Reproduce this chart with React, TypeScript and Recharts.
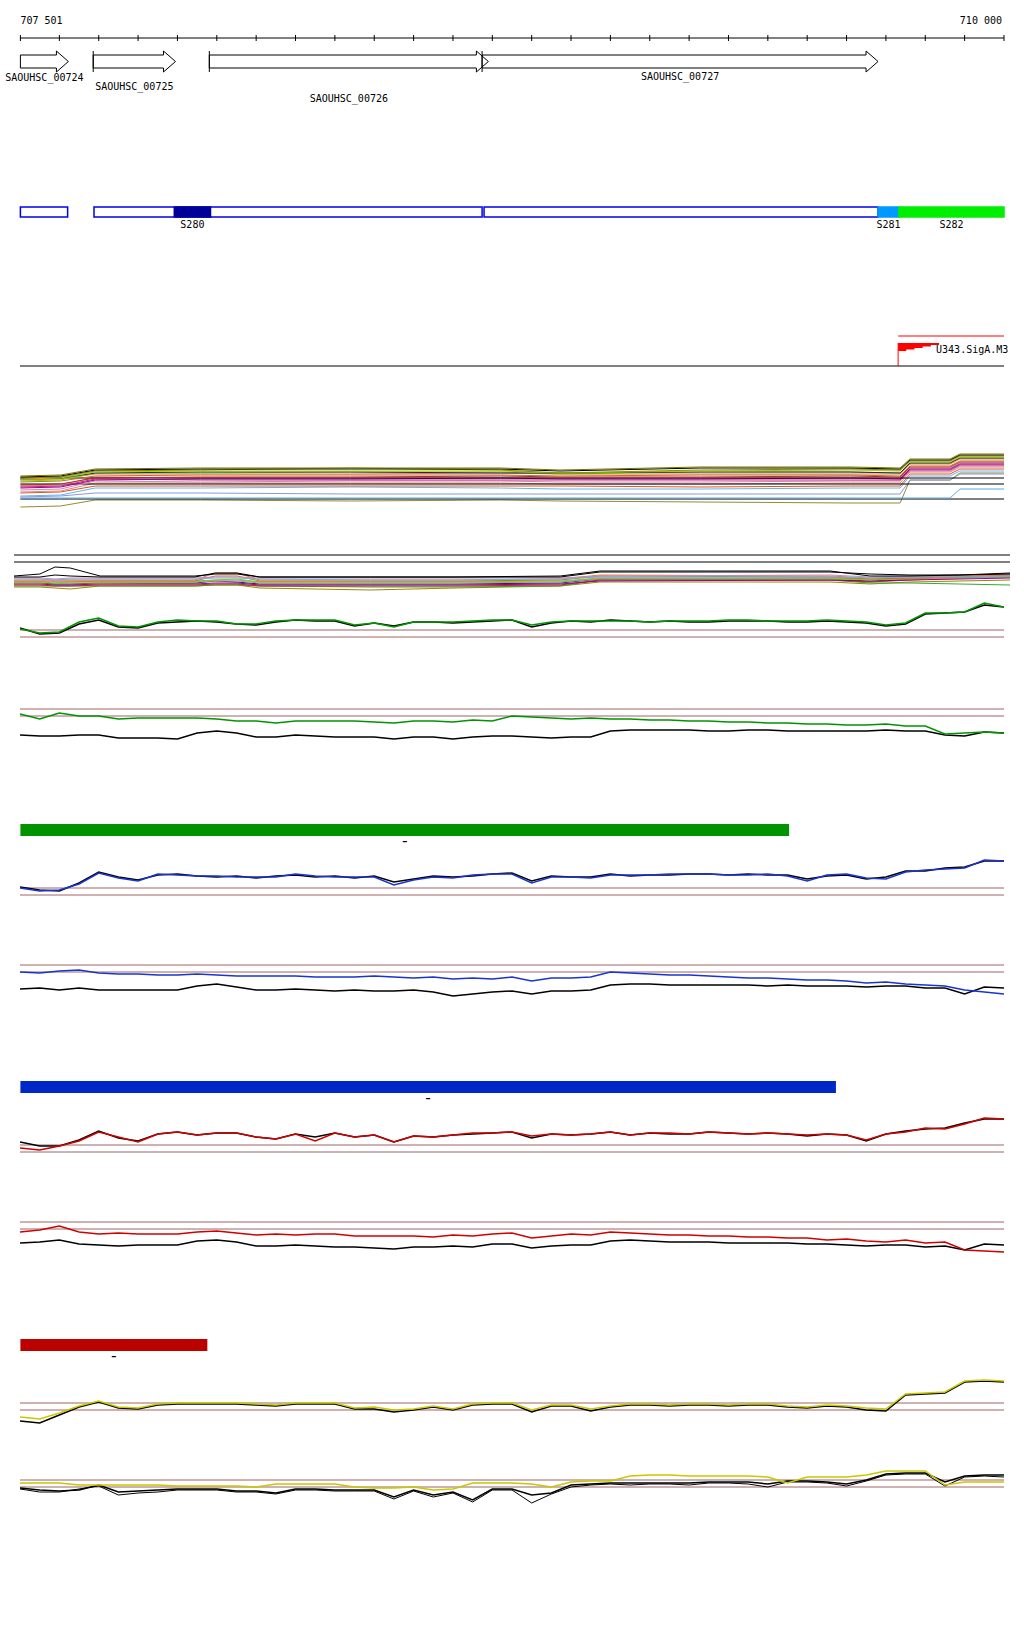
import React from "react";
import { LineChart, Line, XAxis, YAxis, ReferenceLine, ReferenceArea } from "recharts";

const WIDTH = 1024;
const X_DOMAIN: [number, number] = [707500, 710000];
const MONO = '"DejaVu Sans Mono", "Liberation Mono", monospace';
const BROWN = "#a06464";

// ruler, one tick per 100 bp
const rulerTicks = [
  707501, 707600, 707700, 707800, 707900, 708000, 708100, 708200, 708300, 708400, 708500, 708600, 708700,
  708800, 708900, 709000, 709100, 709200, 709300, 709400, 709500, 709600, 709700, 709800, 709900, 710000,
];

// annotated genes
const geneNames = ["SAOUHSC_00724", "SAOUHSC_00725", "SAOUHSC_00726", "SAOUHSC_00727"];
const geneStarts = [707501, 707686, 707981, 708674];
const geneEnds = [707623, 707895, 708690, 709680];
const geneLabelDy: Record<string, number> = {
  SAOUHSC_00724: 30,
  SAOUHSC_00725: 39,
  SAOUHSC_00726: 51,
  SAOUHSC_00727: 29,
};

// segments track
const segStarts = [707501, 707688, 707892, 708679, 709680, 709733];
const segEnds = [707621, 708674, 707984, 709680, 709733, 710000];
const segLabels = ["", "", "S280", "", "S281", "S282"];
const segFill: Record<string, string> = { "": "#ffffff", S280: "#000099", S281: "#0099ff", S282: "#00ee00" };

// TSS
const tssPos = 709731;
const tssFlagEnd = 709835;
const tssName = "U343.SigA.M3";

// coloured spans
const greenSpan = [707501, 709454];
const blueSpan = [707501, 709573];
const redSpan = [707501, 707976];

// condition profiles (top spaghetti)
const p1Pos = [707501, 707603, 707691, 707958, 708339, 708720, 708872, 709228, 709609, 709736, 709761, 709863, 709888, 710000];
const p1Black = [3.3, 3.4, 4.0, 4.1, 4.1, 4.1, 3.9, 4.2, 4.2, 4.1, 5.0, 5.0, 5.5, 5.5];
const p1Olive = [3.2, 3.3, 3.9, 4.0, 4.2, 4.0, 3.7, 4.0, 4.1, 4.0, 4.9, 4.9, 5.4, 5.4];
const p1Lime = [2.9, 3.0, 3.7, 3.7, 3.8, 3.8, 3.6, 3.8, 3.8, 3.7, 4.7, 4.7, 5.2, 5.2];
const p1Orange = [3.0, 3.1, 3.6, 3.6, 3.6, 3.7, 3.6, 3.6, 3.6, 3.6, 4.6, 4.6, 5.1, 5.1];
const p1YellowGreen = [3.1, 3.2, 3.8, 3.9, 3.9, 3.9, 3.7, 3.9, 4.0, 3.9, 4.8, 4.8, 5.3, 5.3];
const p1Rust = [2.8, 2.9, 3.4, 3.5, 3.5, 3.5, 3.4, 3.5, 3.5, 3.4, 4.4, 4.4, 4.9, 4.9];
const p1Red = [2.5, 2.6, 3.2, 3.3, 3.3, 3.4, 3.3, 3.3, 3.4, 3.3, 4.3, 4.3, 4.8, 4.8];
const p1Purple = [2.2, 2.3, 3.0, 3.1, 3.1, 3.2, 3.1, 3.1, 3.2, 3.1, 4.1, 4.1, 4.6, 4.6];
const p1Pink = [2.0, 2.1, 2.9, 2.8, 2.9, 2.9, 2.8, 2.8, 2.9, 2.9, 3.9, 3.9, 4.4, 4.4];
const p1Magenta = [2.3, 2.4, 3.1, 3.0, 3.0, 3.0, 3.0, 3.0, 3.0, 3.0, 4.0, 4.0, 4.5, 4.5];
const p1BlackMid = [3.2, 3.2, 3.2, 3.2, 3.2, 3.2, 3.2, 3.2, 3.2, 3.2, 3.2, 3.2, 3.2, 3.2];
const p1BlackLow = [2.6, 2.6, 2.6, 2.6, 2.6, 2.6, 2.6, 2.6, 2.6, 2.6, 2.6, 2.6, 2.6, 2.6];
const p1Salmon = [1.8, 1.9, 2.7, 2.7, 2.7, 2.7, 2.6, 2.6, 2.7, 2.7, 3.8, 3.8, 4.3, 4.3];
const p1RedOrange = [1.7, 1.8, 2.4, 2.4, 2.4, 2.4, 2.4, 2.3, 2.4, 2.4, 3.6, 3.6, 4.1, 4.1];
const p1Sky = [1.4, 1.5, 2.2, 2.2, 2.3, 2.2, 2.1, 2.1, 2.2, 2.2, 3.4, 3.4, 3.9, 3.9];
const p1Periwinkle = [1.3, 1.4, 1.7, 1.7, 1.6, 1.6, 1.6, 1.6, 1.6, 1.6, 3.0, 3.0, 3.6, 3.6];
const p1SkyLow = [1.2, 1.2, 1.2, 1.2, 1.2, 1.2, 1.2, 1.2, 1.2, 1.2, 1.2, 1.2, 2.1, 2.1];
const p1BlackBase = [1.1, 1.1, 1.1, 1.1, 1.1, 1.1, 1.1, 1.1, 1.1, 1.1, 1.1, 1.1, 1.1, 1.1];
const p1Ochre = [0.3, 0.4, 1.0, 1.0, 0.9, 1.0, 0.9, 0.8, 0.7, 0.7, 3.0, 3.0, 3.7, 3.7];
const p1Navy = [3.1, 3.2, 3.7, 3.8, 3.8, 3.7, 3.7, 3.8, 3.8, 3.7, 4.7, 4.7, 5.2, 5.2];
const p1Gray = [2.4, 2.5, 3.3, 3.2, 3.2, 3.2, 3.2, 3.2, 3.2, 3.2, 4.2, 4.2, 4.7, 4.7];
const p1DarkOlive = [3.4, 3.5, 4.1, 4.2, 4.2, 4.2, 4.0, 4.3, 4.3, 4.2, 5.1, 5.1, 5.6, 5.6];

// second spaghetti
const p2Pos = [707500, 707565, 707603, 707641, 707716, 707954, 708005, 708060, 708117, 708394, 708607, 708871, 708971, 709548, 709649, 709749, 709874, 710000];
const p2Black = [2.4, 2.6, 3.3, 3.2, 2.4, 2.4, 2.6, 2.6, 2.3, 2.3, 2.3, 2.3, 2.8, 2.8, 2.6, 2.5, 2.5, 2.6];
const p2Black2 = [2.3, 2.3, 2.5, 2.4, 2.3, 2.3, 2.7, 2.7, 2.3, 2.3, 2.3, 2.4, 2.9, 2.9, 2.4, 2.4, 2.5, 2.7];
const p2Orange = [2.0, 2.0, 2.0, 2.0, 2.0, 2.0, 2.7, 2.7, 2.0, 2.0, 2.0, 2.1, 2.5, 2.4, 2.2, 2.3, 2.4, 2.5];
const p2Lime = [1.8, 1.8, 1.7, 1.8, 1.8, 1.8, 2.0, 2.1, 1.8, 1.8, 1.8, 1.9, 2.2, 2.2, 2.0, 2.2, 2.3, 2.4];
const p2Sky = [2.1, 2.1, 2.0, 2.1, 2.1, 2.1, 2.2, 2.2, 2.1, 2.0, 2.0, 2.1, 2.3, 2.3, 2.2, 2.3, 2.3, 2.4];
const p2Olive = [1.3, 1.3, 1.2, 1.1, 1.4, 1.4, 1.5, 1.5, 1.2, 1.0, 1.2, 1.4, 1.8, 1.8, 1.6, 1.8, 1.9, 2.0];
const p2Purple = [1.6, 1.6, 1.5, 1.5, 1.6, 1.6, 1.7, 1.7, 1.5, 1.5, 1.5, 1.6, 1.9, 2.0, 1.9, 2.0, 2.1, 2.2];
const p2Salmon = [1.7, 1.7, 1.7, 1.7, 1.7, 1.8, 1.9, 1.9, 1.7, 1.7, 1.7, 1.8, 2.1, 2.1, 2.0, 2.1, 2.2, 2.3];
const p2Rust = [1.9, 1.9, 1.9, 1.9, 1.9, 1.9, 2.4, 2.4, 1.9, 1.9, 1.9, 2.0, 2.4, 2.3, 2.1, 2.2, 2.3, 2.5];
const p2Red = [1.5, 1.5, 1.4, 1.4, 1.5, 1.5, 1.6, 1.6, 1.4, 1.4, 1.4, 1.5, 2.0, 2.0, 1.8, 2.0, 2.2, 2.3];
const p2Green = [1.4, 1.4, 1.4, 1.4, 1.4, 1.4, 1.5, 1.5, 1.4, 1.3, 1.3, 1.4, 2.0, 2.0, 1.7, 1.7, 1.6, 1.5];
const p2Navy = [1.7, 1.7, 1.6, 1.6, 1.7, 1.7, 1.9, 1.8, 1.6, 1.6, 1.6, 1.7, 2.1, 2.1, 1.9, 2.1, 2.2, 2.3];
const p2Pink = [2.2, 2.2, 2.1, 2.2, 2.2, 2.2, 2.3, 2.3, 2.2, 2.2, 2.2, 2.2, 2.4, 2.5, 2.3, 2.4, 2.5, 2.6];
const p2Periwinkle = [1.8, 1.8, 1.8, 1.8, 1.9, 1.9, 2.0, 2.0, 1.8, 1.8, 1.8, 1.8, 2.2, 2.2, 2.1, 2.2, 2.3, 2.4];

// tiling probes, 50 bp apart
const probePos = [
  707500, 707550, 707600, 707650, 707700, 707750, 707800, 707850, 707900, 707950,
  708000, 708050, 708100, 708150, 708200, 708250, 708300, 708350, 708400, 708450,
  708500, 708550, 708600, 708650, 708700, 708750, 708800, 708850, 708900, 708950,
  709000, 709050, 709100, 709150, 709200, 709250, 709300, 709350, 709400, 709450,
  709500, 709550, 709600, 709650, 709700, 709750, 709800, 709850, 709900, 709950,
  710000,
];

const p3Green = [
  0.8, 0.4, 0.5, 1.5, 1.9, 1.1, 1.0, 1.5, 1.7, 1.6,
  1.6, 1.3, 1.3, 1.6, 1.7, 1.7, 1.7, 1.2, 1.4, 1.0,
  1.5, 1.5, 1.5, 1.6, 1.7, 1.7, 1.2, 1.5, 1.6, 1.6,
  1.6, 1.6, 1.5, 1.6, 1.6, 1.6, 1.7, 1.7, 1.6, 1.6,
  1.6, 1.7, 1.6, 1.5, 1.2, 1.4, 2.4, 2.4, 2.5, 3.4,
  3.0,
];
const p3Black = [
  0.9, 0.3, 0.4, 1.3, 1.7, 1.0, 0.9, 1.4, 1.5, 1.6,
  1.5, 1.3, 1.2, 1.5, 1.7, 1.6, 1.6, 1.1, 1.4, 1.1,
  1.5, 1.5, 1.4, 1.5, 1.6, 1.7, 1.0, 1.4, 1.6, 1.5,
  1.7, 1.6, 1.5, 1.6, 1.5, 1.5, 1.6, 1.6, 1.6, 1.5,
  1.5, 1.6, 1.5, 1.4, 1.1, 1.3, 2.3, 2.4, 2.5, 3.2,
  3.0,
];
const p4Green = [
  0.2, -0.3, 0.3, 0.0, 0.0, -0.3, -0.2, -0.2, -0.2, -0.2,
  -0.3, -0.5, -0.5, -0.7, -0.5, -0.5, -0.5, -0.5, -0.6, -0.7,
  -0.5, -0.5, -0.6, -0.4, -0.5, 0.0, -0.1, -0.2, -0.3, -0.2,
  -0.3, -0.3, -0.4, -0.4, -0.5, -0.5, -0.6, -0.6, -0.7, -0.7,
  -0.8, -0.8, -0.9, -0.9, -0.8, -1.0, -1.0, -1.8, -1.7, -1.6,
  -1.7,
];
const p4Black = [
  -1.9, -2.0, -2.0, -1.9, -1.9, -2.2, -2.2, -2.2, -2.3, -1.7,
  -1.5, -1.7, -2.1, -2.1, -1.9, -2.0, -2.1, -2.1, -2.1, -2.3,
  -2.1, -2.1, -2.3, -2.1, -2.0, -2.0, -2.1, -2.2, -2.1, -2.1,
  -1.5, -1.4, -1.4, -1.4, -1.4, -1.5, -1.5, -1.4, -1.4, -1.5,
  -1.5, -1.5, -1.5, -1.5, -1.4, -1.5, -1.5, -1.9, -2.0, -1.6,
  -1.7,
];
const p5Blue = [
  0.7, 0.4, 0.5, 1.1, 2.2, 1.7, 1.4, 2.1, 2.0, 1.9,
  1.9, 1.8, 1.8, 1.8, 2.1, 1.9, 1.8, 1.8, 1.8, 1.0,
  1.5, 1.8, 1.7, 2.0, 2.1, 2.1, 1.2, 1.8, 1.8, 1.7,
  2.0, 2.0, 2.0, 2.1, 2.1, 2.1, 2.0, 2.0, 2.1, 1.9,
  1.4, 2.0, 2.1, 1.7, 1.6, 2.3, 2.5, 2.6, 2.7, 3.5,
  3.4,
];
const p5Black = [
  0.8, 0.5, 0.4, 1.2, 2.3, 1.8, 1.5, 2.0, 2.1, 1.9,
  1.8, 1.9, 1.7, 1.9, 2.0, 1.8, 1.9, 1.7, 1.9, 1.3,
  1.6, 1.9, 1.8, 1.9, 2.1, 2.2, 1.4, 1.9, 1.8, 1.8,
  2.1, 1.9, 2.0, 2.0, 2.1, 2.1, 2.0, 2.1, 2.0, 2.0,
  1.6, 1.9, 2.0, 1.6, 1.8, 2.4, 2.4, 2.7, 2.8, 3.4,
  3.4,
];
const p6Blue = [
  0.0, -0.1, 0.1, 0.2, -0.1, -0.2, -0.2, -0.3, -0.3, -0.2,
  -0.3, -0.4, -0.4, -0.4, -0.4, -0.5, -0.5, -0.5, -0.4, -0.5,
  -0.6, -0.5, -0.7, -0.6, -0.7, -0.5, -0.9, -0.6, -0.6, -0.5,
  0.0, -0.1, -0.2, -0.3, -0.3, -0.4, -0.5, -0.6, -0.6, -0.7,
  -0.8, -0.8, -0.9, -1.1, -1.0, -1.2, -1.3, -1.4, -1.8, -2.0,
  -2.2,
];
const p6Black = [
  -1.7, -1.6, -1.8, -1.6, -1.8, -1.8, -1.8, -1.8, -1.8, -1.4,
  -1.2, -1.5, -1.8, -1.8, -1.7, -1.8, -1.9, -1.8, -1.9, -1.9,
  -1.8, -2.0, -2.4, -2.2, -2.0, -1.9, -2.2, -1.9, -1.9, -1.8,
  -1.3, -1.2, -1.2, -1.3, -1.3, -1.3, -1.3, -1.3, -1.4, -1.3,
  -1.4, -1.4, -1.4, -1.5, -1.4, -1.4, -1.6, -1.6, -2.2, -1.5,
  -1.6,
];
const p7Red = [
  0.4, 0.2, 0.6, 1.1, 2.0, 1.5, 1.0, 1.8, 2.0, 1.7,
  1.9, 1.9, 1.5, 1.3, 1.8, 1.1, 1.9, 1.5, 1.7, 1.0,
  1.6, 1.5, 1.7, 1.9, 1.9, 2.0, 1.6, 1.8, 1.7, 1.8,
  2.0, 1.7, 1.9, 1.9, 1.8, 2.0, 1.9, 1.8, 1.9, 1.8,
  1.7, 1.8, 1.7, 1.2, 1.8, 2.0, 2.4, 2.3, 2.8, 3.4,
  3.3,
];
const p7Black = [
  1.0, 0.6, 0.6, 1.2, 2.1, 1.4, 1.1, 1.8, 2.0, 1.7,
  1.9, 1.9, 1.5, 1.3, 1.8, 1.5, 1.9, 1.5, 1.7, 1.0,
  1.6, 1.5, 1.7, 1.8, 1.9, 2.0, 1.4, 1.8, 1.7, 1.8,
  2.0, 1.7, 1.9, 1.8, 1.8, 2.0, 1.9, 1.8, 1.9, 1.8,
  1.6, 1.8, 1.7, 1.1, 1.8, 2.1, 2.3, 2.4, 2.9, 3.3,
  3.3,
];
const p8Red = [
  -0.3, -0.1, 0.3, -0.3, -0.5, -0.4, -0.5, -0.5, -0.5, -0.3,
  -0.2, -0.4, -0.6, -0.5, -0.6, -0.5, -0.5, -0.7, -0.7, -0.7,
  -0.7, -0.8, -0.6, -0.7, -0.5, -0.4, -0.9, -0.7, -0.5, -0.6,
  -0.3, -0.4, -0.5, -0.6, -0.6, -0.7, -0.7, -0.8, -0.8, -0.9,
  -0.9, -1.1, -1.0, -1.2, -1.3, -1.1, -1.4, -1.3, -2.1, -2.2,
  -2.3,
];
const p8Black = [
  -1.4, -1.3, -1.1, -1.5, -1.6, -1.7, -1.6, -1.6, -1.6, -1.2,
  -1.1, -1.3, -1.7, -1.7, -1.6, -1.7, -1.8, -1.8, -1.9, -2.0,
  -1.8, -1.8, -1.7, -1.8, -1.5, -1.5, -1.9, -1.7, -1.6, -1.6,
  -1.2, -1.1, -1.2, -1.3, -1.3, -1.3, -1.4, -1.4, -1.4, -1.4,
  -1.5, -1.5, -1.6, -1.7, -1.6, -1.6, -1.8, -1.7, -2.1, -1.5,
  -1.6,
];
const p9Yellow = [
  -0.7, -0.9, -0.3, 0.4, 0.9, 0.3, 0.2, 0.6, 0.7, 0.7,
  0.7, 0.7, 0.6, 0.5, 0.7, 0.7, 0.7, 0.2, 0.3, 0.0,
  0.1, 0.4, 0.1, 0.6, 0.7, 0.7, 0.0, 0.5, 0.5, 0.1,
  0.4, 0.6, 0.6, 0.5, 0.6, 0.6, 0.5, 0.6, 0.6, 0.4,
  0.3, 0.5, 0.4, 0.2, 0.1, 1.6, 1.7, 1.8, 2.9, 3.0,
  2.9,
];
const p9Black = [
  -1.1, -1.3, -0.5, 0.3, 0.8, 0.2, 0.1, 0.5, 0.6, 0.6,
  0.6, 0.6, 0.5, 0.4, 0.6, 0.6, 0.6, 0.1, 0.1, -0.2,
  0.0, 0.3, 0.0, 0.5, 0.6, 0.6, -0.2, 0.4, 0.4, -0.1,
  0.3, 0.5, 0.5, 0.4, 0.5, 0.5, 0.4, 0.5, 0.5, 0.3,
  0.2, 0.4, 0.3, 0.0, -0.1, 1.5, 1.6, 1.7, 2.8, 2.9,
  2.8,
];
const p10Yellow = [
  0.4, 0.4, 0.4, 0.2, 0.2, 0.2, 0.2, 0.2, 0.1, 0.1,
  0.1, 0.1, 0.0, 0.3, 0.3, 0.3, 0.3, 0.0, -0.1, -0.1,
  0.0, -0.3, -0.2, 0.4, 0.4, 0.4, 0.3, 0.0, 0.5, 0.6,
  0.6, 1.1, 1.2, 1.2, 1.1, 1.1, 1.1, 1.1, 1.0, 0.4,
  1.0, 1.0, 1.0, 1.2, 1.6, 1.6, 1.6, 0.2, 0.5, 0.5,
  0.5,
];
const p10Black = [
  -0.1, -0.3, -0.4, -0.3, 0.2, -0.5, -0.4, -0.3, -0.2, -0.2,
  -0.2, -0.4, -0.4, -0.6, -0.2, -0.2, -0.3, -0.3, -0.3, -1.0,
  -0.3, -0.8, -0.5, -1.3, -0.2, -0.2, -0.8, -0.6, 0.2, 0.3,
  0.4, 0.4, 0.4, 0.4, 0.4, 0.5, 0.5, 0.5, 0.3, 0.6,
  0.6, 0.5, 0.3, 0.7, 1.3, 1.4, 1.4, 0.5, 1.1, 1.2,
  1.2,
];
const p10Black2 = [
  -0.2, -0.5, -0.5, -0.2, 0.1, -0.8, -0.6, -0.5, -0.3, -0.3,
  -0.3, -0.5, -0.5, -0.7, -0.3, -0.3, -0.4, -0.4, -0.4, -1.2,
  -0.4, -1.0, -0.6, -1.5, -0.3, -0.3, -1.6, -0.7, 0.0, 0.2,
  0.3, 0.2, 0.3, 0.3, 0.2, 0.4, 0.4, 0.3, 0.0, 0.5,
  0.5, 0.4, 0.1, 0.6, 1.2, 1.3, 1.3, 0.1, 1.0, 1.1,
  1.0,
];

type Series = { key: string; color: string; values: number[]; width?: number };

const GREEN = "#009400";
const BLUE = "#1a34d0";
const RED = "#d00000";
const YELLOW = "#c8c800";

const p1Series: Series[] = [
  { key: "ochre", color: "#998833", values: p1Ochre },
  { key: "blackBase", color: "#000000", values: p1BlackBase },
  { key: "skyLow", color: "#55aaee", values: p1SkyLow },
  { key: "periwinkle", color: "#8899dd", values: p1Periwinkle },
  { key: "sky", color: "#66b3ee", values: p1Sky },
  { key: "redOrange", color: "#dd5522", values: p1RedOrange },
  { key: "salmon", color: "#e08a70", values: p1Salmon },
  { key: "blackLow", color: "#000000", values: p1BlackLow },
  { key: "pink", color: "#cc88bb", values: p1Pink },
  { key: "gray", color: "#999999", values: p1Gray },
  { key: "magenta", color: "#cc2277", values: p1Magenta },
  { key: "purple", color: "#990099", values: p1Purple },
  { key: "blackMid", color: "#000000", values: p1BlackMid },
  { key: "red", color: "#cc2222", values: p1Red },
  { key: "rust", color: "#cc6633", values: p1Rust },
  { key: "orange", color: "#ee7733", values: p1Orange },
  { key: "lime", color: "#66dd00", values: p1Lime },
  { key: "navy", color: "#222266", values: p1Navy },
  { key: "yellowGreen", color: "#aacc00", values: p1YellowGreen },
  { key: "olive", color: "#8c8c00", values: p1Olive },
  { key: "black", color: "#000000", values: p1Black },
  { key: "darkOlive", color: "#777700", values: p1DarkOlive },
];

const p2Series: Series[] = [
  { key: "olive", color: "#998800", values: p2Olive },
  { key: "green", color: "#33aa33", values: p2Green },
  { key: "red", color: "#cc2222", values: p2Red },
  { key: "purple", color: "#990099", values: p2Purple },
  { key: "navy", color: "#222266", values: p2Navy },
  { key: "salmon", color: "#e08a70", values: p2Salmon },
  { key: "periwinkle", color: "#8899dd", values: p2Periwinkle },
  { key: "lime", color: "#66dd00", values: p2Lime },
  { key: "rust", color: "#cc6633", values: p2Rust },
  { key: "orange", color: "#ee7733", values: p2Orange },
  { key: "sky", color: "#66b3ee", values: p2Sky },
  { key: "pink", color: "#cc88bb", values: p2Pink },
  { key: "black2", color: "#000000", values: p2Black2 },
  { key: "black", color: "#000000", values: p2Black },
];

const pairPanels = [
  { top: 597, height: 50, domain: [-1, 4], series: [{ key: "k", color: "#000", values: p3Black }, { key: "c", color: GREEN, values: p3Green }] },
  { top: 706, height: 40, domain: [-3, 1], series: [{ key: "k", color: "#000", values: p4Black }, { key: "c", color: GREEN, values: p4Green }] },
  { top: 855, height: 50, domain: [-1, 4], series: [{ key: "k", color: "#000", values: p5Black }, { key: "c", color: BLUE, values: p5Blue }] },
  { top: 962, height: 40, domain: [-3, 1], series: [{ key: "k", color: "#000", values: p6Black }, { key: "c", color: BLUE, values: p6Blue }] },
  { top: 1112, height: 50, domain: [-1, 4], series: [{ key: "k", color: "#000", values: p7Black }, { key: "c", color: RED, values: p7Red }] },
  { top: 1219, height: 40, domain: [-3, 1], series: [{ key: "k", color: "#000", values: p8Black }, { key: "c", color: RED, values: p8Red }] },
  { top: 1370, height: 60, domain: [-2, 4], series: [{ key: "k", color: "#000", values: p9Black }, { key: "c", color: YELLOW, values: p9Yellow }] },
  { top: 1467, height: 40, domain: [-2, 2], series: [{ key: "k2", color: "#000", values: p10Black2, width: 1 }, { key: "k", color: "#000", values: p10Black }, { key: "c", color: YELLOW, values: p10Yellow }] },
];

function buildRows(pos: number[], series: Series[]) {
  return pos.map((p, i) => {
    const row: Record<string, number> = { pos: p };
    series.forEach((s) => {
      row[s.key] = s.values[i];
    });
    return row;
  });
}

function fmtPos(v: number) {
  return `${Math.floor(v / 1000)} ${String(v % 1000).padStart(3, "0")}`;
}

function RulerTick(props: any) {
  const { x, y, payload } = props;
  const v = payload.value;
  const first = v === rulerTicks[0];
  const last = v === rulerTicks[rulerTicks.length - 1];
  return (
    <g>
      <line x1={x} x2={x} y1={y - 3} y2={y + 3} stroke="#000" />
      {(first || last) && (
        <text x={first ? x : x - 2} y={y - 14} textAnchor={first ? "start" : "end"} fontSize={10} fontFamily={MONO} fill="#000">
          {fmtPos(v)}
        </text>
      )}
    </g>
  );
}

function GeneArrow(props: any) {
  const { x, y, width, height, gene } = props;
  const head = Math.min(12, width / 2);
  const inset = 4;
  const bx = x + width - head;
  const d = `M${x},${y + inset} L${bx},${y + inset} L${bx},${y} L${x + width},${y + height / 2} L${bx},${y + height} L${bx},${y + height - inset} L${x},${y + height - inset} Z`;
  return (
    <g>
      <path d={d} fill="none" stroke="#000" strokeWidth={1} />
      {gene.start > X_DOMAIN[0] + 1 && <line x1={x} x2={x} y1={y} y2={y + height} stroke="#000" />}
      <text x={x + width / 2} y={y + geneLabelDy[gene.name]} textAnchor="middle" fontSize={10} fontFamily={MONO} fill="#000">
        {gene.name}
      </text>
    </g>
  );
}

function SegmentBox(props: any) {
  const { x, y, width, height, seg } = props;
  const fill = segFill[seg.label];
  const stroke = seg.label ? fill : "#0000ee";
  return (
    <g>
      <rect x={x} y={y} width={width} height={height} fill={fill} stroke={stroke} strokeWidth={1.5} />
      {seg.label && (
        <text x={x + width / 2} y={y + height + 11} textAnchor="middle" fontSize={10} fontFamily={MONO} fill="#000">
          {seg.label}
        </text>
      )}
    </g>
  );
}

function TssFlag(props: any) {
  const { x, y, width, height } = props;
  const pts = [
    [x, y], [x + width, y], [x + width, y + 2], [x + width * 0.8, y + 2], [x + width * 0.8, y + 3.5],
    [x + width * 0.6, y + 3.5], [x + width * 0.6, y + 5], [x + width * 0.4, y + 5], [x + width * 0.4, y + 6.5],
    [x + width * 0.2, y + 6.5], [x + width * 0.2, y + height], [x, y + height],
  ];
  return (
    <g>
      <polygon points={pts.map((p) => p.join(",")).join(" ")} fill="#ff0000" />
      <text x={x + width - 3} y={y + height + 2} fontSize={10} fontFamily={MONO} fill="#000">
        {tssName}
      </text>
    </g>
  );
}

function Ruler() {
  return (
    <div style={{ position: "absolute", left: 0, top: 0 }}>
      <LineChart width={WIDTH} height={45} data={[{ pos: X_DOMAIN[0] }, { pos: X_DOMAIN[1] }]} margin={{ top: 8, right: 20, bottom: 0, left: 20 }}>
        <XAxis
          dataKey="pos"
          type="number"
          domain={X_DOMAIN}
          orientation="top"
          ticks={rulerTicks}
          interval={0}
          tickLine={false}
          tickSize={0}
          tickMargin={0}
          axisLine={{ stroke: "#000" }}
          tick={<RulerTick />}
          height={30}
          allowDataOverflow
        />
        <YAxis hide domain={[0, 1]} />
      </LineChart>
    </div>
  );
}

function GeneTrack() {
  const rows = geneNames.map((name, i) => ({ name, start: geneStarts[i], end: geneEnds[i] }));
  return (
    <div style={{ position: "absolute", left: 0, top: 45 }}>
      <LineChart width={WIDTH} height={60} data={rows} margin={{ top: 6, right: 20, bottom: 33, left: 20 }}>
        <XAxis dataKey="start" type="number" domain={X_DOMAIN} hide allowDataOverflow />
        <YAxis type="number" domain={[0, 1]} hide allowDataOverflow />
        {rows.map((g) => (
          <ReferenceArea
            key={g.name}
            x1={g.start}
            x2={g.end}
            y1={0}
            y2={1}
            ifOverflow="visible"
            shape={(p: any) => <GeneArrow {...p} gene={g} />}
          />
        ))}
      </LineChart>
    </div>
  );
}

function SegmentTrack() {
  const rows = segStarts.map((start, i) => ({ start, end: segEnds[i], label: segLabels[i] }));
  return (
    <div style={{ position: "absolute", left: 0, top: 200 }}>
      <LineChart width={WIDTH} height={32} data={rows} margin={{ top: 7, right: 20, bottom: 15, left: 20 }}>
        <XAxis dataKey="start" type="number" domain={X_DOMAIN} hide allowDataOverflow />
        <YAxis type="number" domain={[0, 1]} hide allowDataOverflow />
        {rows.map((s, i) => (
          <ReferenceArea
            key={i}
            x1={s.start}
            x2={s.end}
            y1={0}
            y2={1}
            ifOverflow="visible"
            shape={(p: any) => <SegmentBox {...p} seg={s} />}
          />
        ))}
      </LineChart>
    </div>
  );
}

function TssTrack() {
  return (
    <div style={{ position: "absolute", left: 0, top: 320 }}>
      <LineChart width={WIDTH} height={52} data={[{ pos: X_DOMAIN[0] }, { pos: X_DOMAIN[1] }]} margin={{ top: 16, right: 20, bottom: 6, left: 20 }}>
        <XAxis dataKey="pos" type="number" domain={X_DOMAIN} hide allowDataOverflow />
        <YAxis type="number" domain={[0, 30]} hide allowDataOverflow />
        <ReferenceLine y={0} stroke="#000" />
        <ReferenceLine segment={[{ x: tssPos, y: 30 }, { x: X_DOMAIN[1], y: 30 }]} stroke="#ff0000" />
        <ReferenceLine segment={[{ x: tssPos, y: 0 }, { x: tssPos, y: 23 }]} stroke="#ff0000" />
        <ReferenceArea x1={tssPos} x2={tssFlagEnd} y1={15} y2={23} ifOverflow="visible" shape={(p: any) => <TssFlag {...p} />} />
      </LineChart>
    </div>
  );
}

function SpanBar({ top, span, color }: { top: number; span: number[]; color: string }) {
  return (
    <div style={{ position: "absolute", left: 0, top }}>
      <LineChart width={WIDTH} height={26} data={[{ pos: span[0] }, { pos: span[1] }]} margin={{ top: 0, right: 20, bottom: 14, left: 20 }}>
        <XAxis dataKey="pos" type="number" domain={X_DOMAIN} hide allowDataOverflow />
        <YAxis type="number" domain={[0, 1]} hide allowDataOverflow />
        <ReferenceArea
          x1={span[0]}
          x2={span[1]}
          y1={0}
          y2={1}
          ifOverflow="visible"
          shape={(p: any) => (
            <g>
              <rect x={p.x} y={p.y} width={p.width} height={p.height} fill={color} />
              <text x={p.x + p.width / 2} y={p.y + p.height + 10} textAnchor="middle" fontSize={16} fontFamily={MONO} fill="#000">
                -
              </text>
            </g>
          )}
        />
      </LineChart>
    </div>
  );
}

function SignalTrack(props: {
  top: number;
  height: number;
  domain: number[];
  pos: number[];
  series: Series[];
  refs: number[];
  refColor?: string;
  left?: number;
  right?: number;
}) {
  const { top, height, domain, pos, series, refs, refColor = BROWN, left = 20, right = 20 } = props;
  const rows = buildRows(pos, series);
  return (
    <div style={{ position: "absolute", left: 0, top }}>
      <LineChart width={WIDTH} height={height} data={rows} margin={{ top: 0, right, bottom: 0, left }}>
        <XAxis dataKey="pos" type="number" domain={X_DOMAIN} hide allowDataOverflow />
        <YAxis type="number" domain={domain} hide allowDataOverflow />
        {refs.map((r) => (
          <ReferenceLine key={r} y={r} stroke={refColor} strokeWidth={1} />
        ))}
        {series.map((s) => (
          <Line
            key={s.key}
            dataKey={s.key}
            type="linear"
            stroke={s.color}
            strokeWidth={s.width ?? 1.5}
            dot={false}
            activeDot={false}
            isAnimationActive={false}
          />
        ))}
      </LineChart>
    </div>
  );
}

export default function App() {
  return (
    <div style={{ position: "relative", width: WIDTH, height: 1640, background: "#fff", overflow: "hidden", fontFamily: MONO }}>
      <style>{"body{margin:0}"}</style>
      <Ruler />
      <GeneTrack />
      <SegmentTrack />
      <TssTrack />
      <SignalTrack top={440} height={70} domain={[0, 7]} pos={p1Pos} series={p1Series.map((s) => ({ ...s, width: 1 }))} refs={[]} />
      <SignalTrack top={550} height={50} domain={[0, 5]} pos={p2Pos} series={p2Series.map((s) => ({ ...s, width: 1 }))} refs={[4.5, 3.8]} refColor="#000" left={14} right={14} />
      {pairPanels.map((p, i) => (
        <SignalTrack key={i} top={p.top} height={p.height} domain={p.domain} pos={probePos} series={p.series} refs={[0, 0.7]} />
      ))}
      <SpanBar top={824} span={greenSpan} color={GREEN} />
      <SpanBar top={1081} span={blueSpan} color="#0028c8" />
      <SpanBar top={1339} span={redSpan} color="#bb0000" />
    </div>
  );
}
